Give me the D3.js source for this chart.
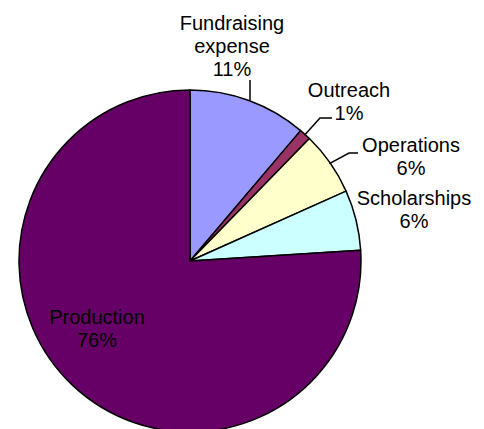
<!DOCTYPE html>
<html>
<head>
<meta charset="utf-8">
<script src="https://cdn.jsdelivr.net/npm/d3@7"></script>
<style>
  html, body { margin: 0; padding: 0; background: #fff; }
  svg { display: block; }
  text { font-family: Arial, "Liberation Sans", sans-serif; font-size: 20px; fill: #000; }
</style>
</head>
<body>
<svg id="chart" width="484" height="429"></svg>
<script>
// ---- data ----
const categories = ["Fundraising expense", "Outreach", "Operations", "Scholarships", "Production"];
const values = [11.2, 1.1, 6.0, 5.7, 76.0];
const percentLabels = ["11%", "1%", "6%", "6%", "76%"];
const colors = ["#9999FF", "#993366", "#FFFFCC", "#CCFFFF", "#660066"];

// ---- layout ----
const cx = 190, cy = 261, r = 171;
const labelLayout = [
  { x: 232, y: 30, lines: ["Fundraising", "expense"], leader: [[250, 80], null] },
  { x: 349, y: 97, lines: ["Outreach"], leader: [[332, 118], [320, 118]] },
  { x: 411, y: 152, lines: ["Operations"], leader: [[358, 153], [349, 153]] },
  { x: 414, y: 205, lines: ["Scholarships"], leader: null },
  { x: 97, y: 324, lines: ["Production"], leader: null }
];
const lineH = 23;

const svg = d3.select("#chart");
const g = svg.append("g").attr("transform", `translate(${cx},${cy})`);

const pie = d3.pie().sort(null).value(d => d)
  .startAngle(0).endAngle(2 * Math.PI);
const arcs = pie(values);
const arc = d3.arc().innerRadius(0).outerRadius(r);

g.selectAll("path.slice")
  .data(arcs)
  .enter().append("path")
  .attr("class", "slice")
  .attr("d", arc)
  .attr("fill", (d, i) => colors[i])
  .attr("stroke", "#000")
  .attr("stroke-width", 1.5)
  .attr("stroke-linejoin", "round");

// leader lines
arcs.forEach((a, i) => {
  const L = labelLayout[i];
  if (!L.leader) return;
  const mid = (a.startAngle + a.endAngle) / 2;
  const ex = cx + (r - 1) * Math.sin(mid);
  const ey = cy - (r - 1) * Math.cos(mid);
  let pts;
  if (L.leader[1] === null) {
    // vertical leader straight down to pie edge
    const x0 = L.leader[0][0];
    const yEdge = cy - Math.sqrt(r * r - (x0 - cx) * (x0 - cx));
    pts = [[x0, L.leader[0][1]], [x0, yEdge]];
  } else {
    pts = [L.leader[0], L.leader[1], [ex, ey]];
  }
  svg.append("path")
    .attr("d", d3.line()(pts))
    .attr("fill", "none")
    .attr("stroke", "#000")
    .attr("stroke-width", 1.5);
});

// labels
arcs.forEach((a, i) => {
  const L = labelLayout[i];
  const t = svg.append("text").attr("text-anchor", "middle");
  const lines = L.lines.concat([percentLabels[i]]);
  lines.forEach((s, k) => {
    t.append("tspan").attr("x", L.x).attr("y", L.y + k * lineH).text(s);
  });
});
</script>
</body>
</html>
